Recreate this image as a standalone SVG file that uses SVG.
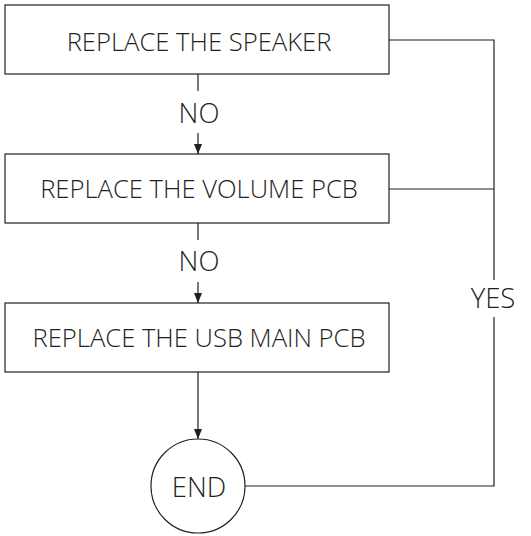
<svg xmlns="http://www.w3.org/2000/svg" width="531" height="536" viewBox="0 0 531 536">
<defs>
<marker id="ah" viewBox="0 0 10 8" refX="10" refY="4" markerWidth="10" markerHeight="8" markerUnits="userSpaceOnUse" orient="auto">
<path d="M0,0 L10,4 L0,8 Z" fill="#231f20"/>
</marker>
</defs>
<style>
.box{fill:#fff;stroke:#231f20;stroke-width:1.2}
.ln{fill:none;stroke:#231f20;stroke-width:1.2}
.t{font-family:"Open Sans","Liberation Sans",sans-serif;font-weight:300;font-size:25.6px;fill:#231f20;text-anchor:middle}
.l{font-size:27.5px}
</style>
<g id="connectors">
<line class="ln" x1="198" y1="74" x2="198" y2="91"/>
<line class="ln" x1="198" y1="133" x2="198" y2="154" marker-end="url(#ah)"/>
<line class="ln" x1="198" y1="223" x2="198" y2="240"/>
<line class="ln" x1="198" y1="282" x2="198" y2="303" marker-end="url(#ah)"/>
<line class="ln" x1="198" y1="372" x2="198" y2="439" marker-end="url(#ah)"/>
<polyline class="ln" points="389,40 494,40 494,280"/>
<line class="ln" x1="389" y1="189" x2="494" y2="189"/>
<polyline class="ln" points="494,317 494,486 244,486"/>
<text class="t l" x="199" y="122.5">NO</text>
<text class="t l" x="199" y="270.5">NO</text>
<text class="t l" x="493" y="308">YES</text>
</g>
<g id="n1">
<rect class="box" x="5" y="5" width="384" height="69"/>
<text class="t" x="199" y="51">REPLACE THE SPEAKER</text>
</g>
<g id="n2">
<rect class="box" x="5" y="154" width="384" height="69"/>
<text class="t" x="199" y="198">REPLACE THE VOLUME PCB</text>
</g>
<g id="n3">
<rect class="box" x="5" y="303" width="384" height="69"/>
<text class="t" x="199" y="347">REPLACE THE USB MAIN PCB</text>
</g>
<g id="end">
<circle class="box" cx="198" cy="486" r="47"/>
<text class="t l" x="199" y="496.5">END</text>
</g>
</svg>
